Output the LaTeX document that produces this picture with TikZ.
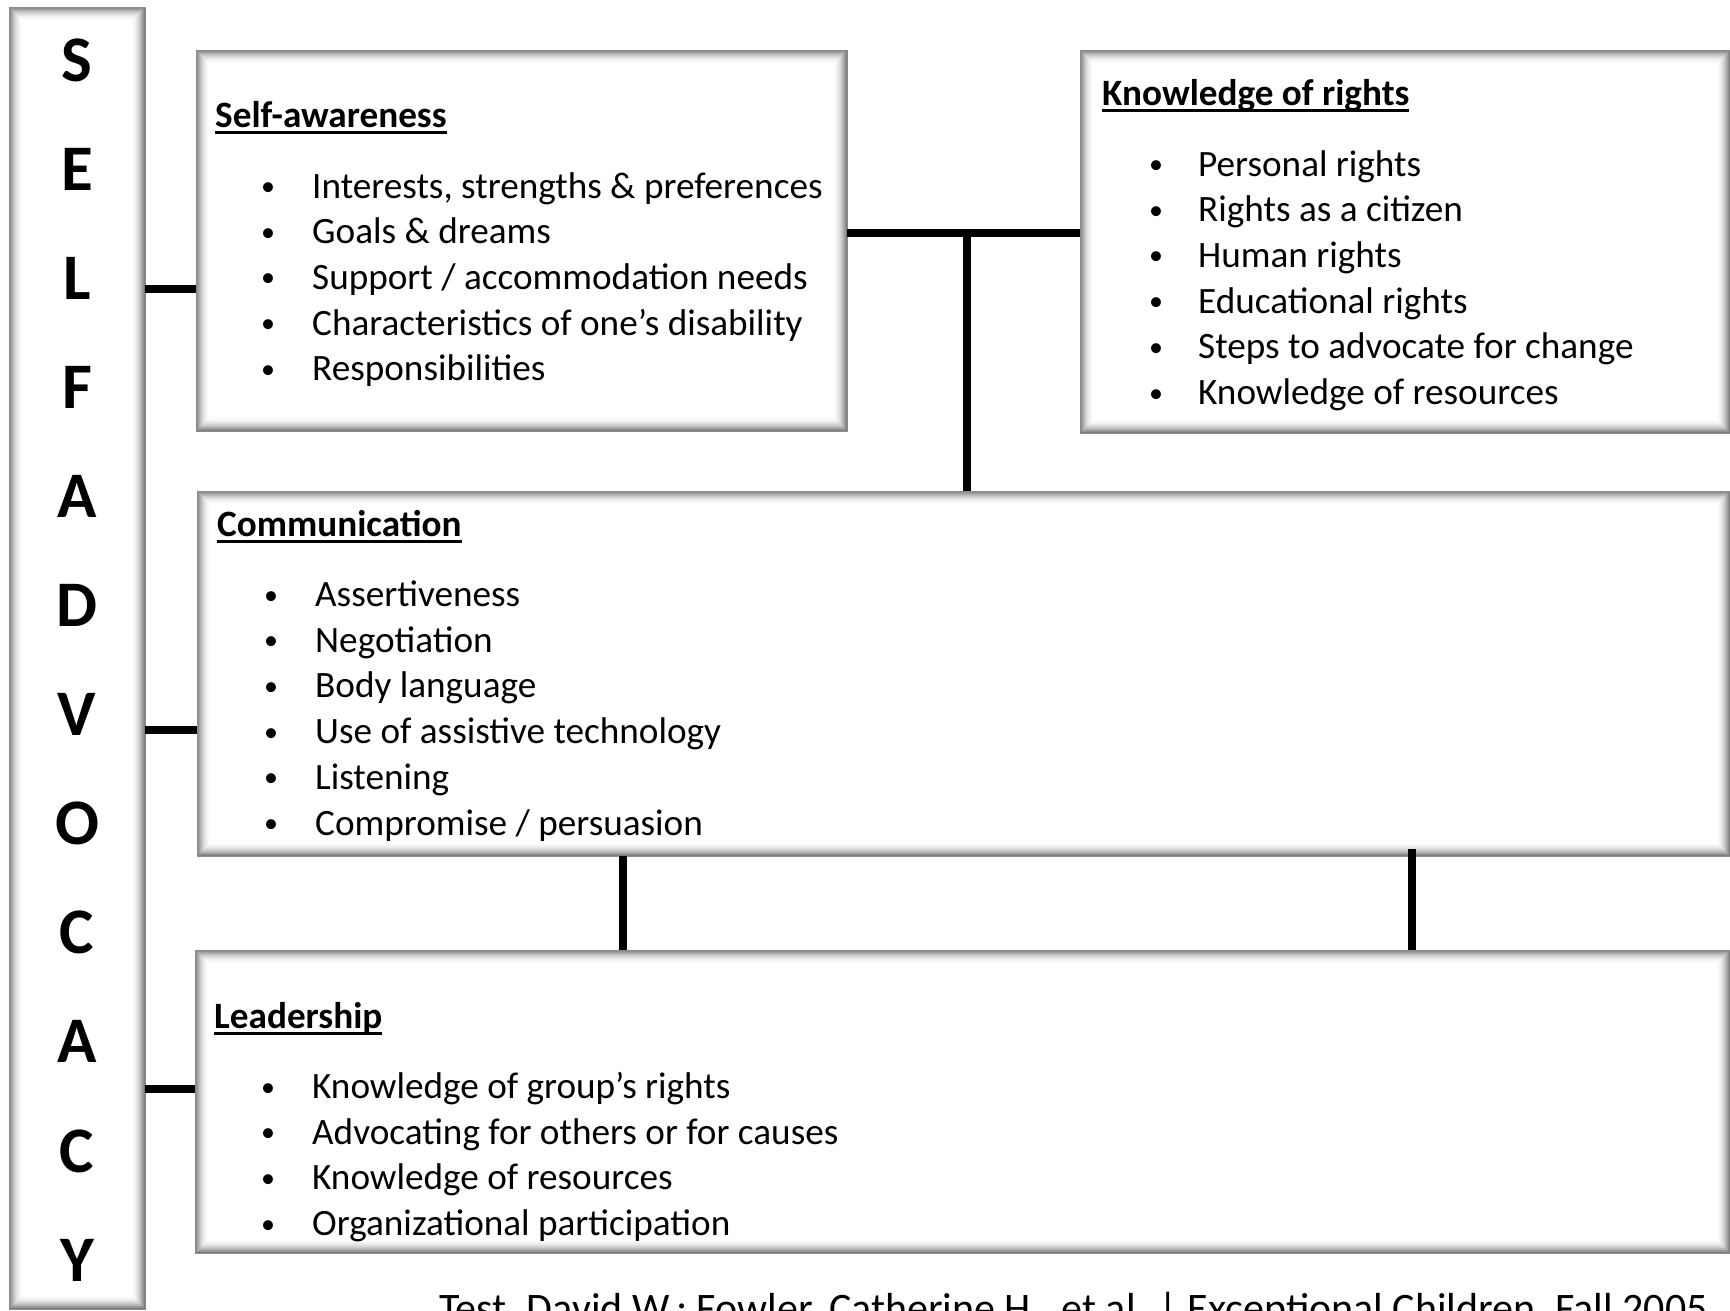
\documentclass[tikz,border=0pt]{standalone}
\usepackage{fontspec}
\setmainfont{Carlito}
\usetikzlibrary{calc}
\newcommand\bodyfont{\fontsize{37.2}{44}\selectfont}
\newcommand\capfont{\fontsize{42}{48}\selectfont}
\newcommand\letterfont{\fontsize{65}{65}\selectfont\bfseries}
\newcommand\bul{\makebox[0pt]{\raisebox{2.5pt}{\fontsize{28}{28}\selectfont\textbullet}}}
\newcommand\uh[1]{\setbox0\hbox{\bfseries #1}\rlap{\rule[-7pt]{\wd0}{3.5pt}}\box0}
\newcommand\glowbox[1]{%
  \foreach \i in {14,...,1}{%
    \pgfmathsetmacro\g{58*(1-\i/15)^2}%
    \draw[line width=1.15pt, draw=black!\g]
      ([shift={(\i-0.5,\i-0.5)}]#1.north west) rectangle ([shift={(-\i+0.5,-\i+0.5)}]#1.south east);
  }%
  \draw[line width=0.8pt, draw=black!45] (#1.north west) rectangle (#1.south east);
}
\tikzset{
  box/.style={rectangle, fill=white, draw=none, inner sep=0pt, anchor=north west},
  conn/.style={line width=8pt, black},
  item/.style={anchor=base west, inner sep=0pt, font=\bodyfont},
  head/.style={anchor=base west, inner sep=0pt, font=\bodyfont},
  letter/.style={anchor=base, inner sep=0pt, font=\letterfont},
}
\begin{document}
\begin{tikzpicture}[x=1pt,y=-1pt]
\useasboundingbox (0,0) rectangle (1730,1310);
\clip (0,0) rectangle (1730,1310);
\fill[white] (0,0) rectangle (1730,1310);

% boxes
\node[box, minimum width=136pt, minimum height=1302pt] (selfcol) at (9,7) {};
\node[box, minimum width=651pt, minimum height=381pt] (sa) at (196,50) {};
\node[box, minimum width=650pt, minimum height=383pt] (kr) at (1080,50) {};
\node[box, minimum width=1533pt, minimum height=365pt] (comm) at (197,491) {};
\node[box, minimum width=1535pt, minimum height=303pt] (lead) at (195,950) {};
\glowbox{selfcol}
\glowbox{sa}
\glowbox{kr}
\glowbox{comm}
\glowbox{lead}

% connectors
\coordinate (y1) at (0,289);
\coordinate (y2) at (0,730);
\coordinate (y3) at (0,1089);
\draw[conn] (selfcol.east |- y1) -- (sa.west |- y1);
\draw[conn] (selfcol.east |- y2) -- (comm.west |- y2);
\draw[conn] (selfcol.east |- y3) -- (lead.west |- y3);
\coordinate (tj) at (967,233);
\draw[conn] (sa.east |- tj) -- (kr.west |- tj);
\draw[conn] (tj) -- (tj |- comm.north);
\coordinate (v1) at (623,0);
\draw[conn] (comm.south -| v1) -- (lead.north -| v1);
\coordinate (v2) at (1412,849);
\draw[conn] (v2) -- (lead.north -| v2);

% SELF ADVOCACY letters
\foreach \L [count=\i from 0] in {S,E,L,F,A,D,V,O,C,A,C,Y}
  \node[letter, name=let\i] at (77, 81.5+\i*109.05) {\L};

% headings
\node[head] (hsa) at (215,127) {\uh{Self-awareness}};
\node[head] (hkr) at (1102,105) {\uh{Knowledge of rights}};
\node[head] (hcomm) at (217,536) {\uh{Communication}};
\node[head] (hlead) at (214,1028) {\uh{Leadership}};

% items
\foreach \t [count=\i from 0] in {{Interests, strengths \& preferences},{Goals \& dreams},{Support / accommodation needs},{Characteristics of one’s disability},{Responsibilities}}
  \node[item, name=isa\i] at (268, 198+\i*45.7) {\bul\hspace{44pt}\t};
\foreach \t [count=\i from 0] in {{Personal rights},{Rights as a citizen},{Human rights},{Educational rights},{Steps to advocate for change},{Knowledge of resources}}
  \node[item, name=ikr\i] at (1156, 176+\i*45.7) {\bul\hspace{42pt}\t};
\foreach \t [count=\i from 0] in {{Assertiveness},{Negotiation},{Body language},{Use of assistive technology},{Listening},{Compromise / persuasion}}
  \node[item, name=icomm\i] at (271, 606.5+\i*45.7) {\bul\hspace{44pt}\t};
\foreach \t [count=\i from 0] in {{Knowledge of group’s rights},{Advocating for others or for causes},{Knowledge of resources},{Organizational participation}}
  \node[item, name=ilead\i] at (268, 1098.5+\i*45.7) {\bul\hspace{44pt}\t};

% caption (cut off at the bottom)
\node[item, font=\capfont] (cap) at (439,1322) {Test, David W.; Fowler, Catherine H., et al. | Exceptional Children, Fall 2005};
\end{tikzpicture}
\end{document}
